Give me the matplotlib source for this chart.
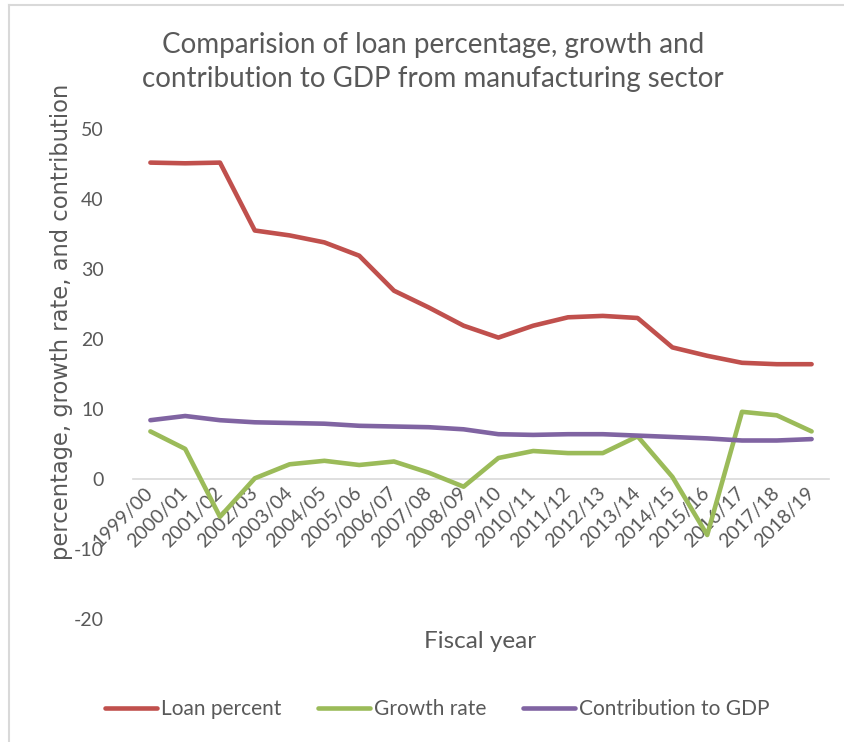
import matplotlib
matplotlib.use("Agg")
import matplotlib.pyplot as plt
from matplotlib.lines import Line2D

years = ["1999/00", "2000/01", "2001/02", "2002/03", "2003/04", "2004/05",
         "2005/06", "2006/07", "2007/08", "2008/09", "2009/10", "2010/11",
         "2011/12", "2012/13", "2013/14", "2014/15", "2015/16", "2016/17",
         "2017/18", "2018/19"]
loan_percent = [45.2, 45.1, 45.2, 35.5, 34.8, 33.8, 31.9, 26.9, 24.5, 21.9,
                20.2, 21.9, 23.1, 23.3, 23.0, 18.8, 17.6, 16.6, 16.4, 16.4]
growth_rate = [6.8, 4.3, -5.4, 0.1, 2.1, 2.6, 2.0, 2.5, 0.9, -1.1,
               3.0, 4.0, 3.7, 3.7, 6.1, 0.3, -8.0, 9.6, 9.1, 6.8]
gdp_contribution = [8.4, 9.0, 8.4, 8.1, 8.0, 7.9, 7.6, 7.5, 7.4, 7.1,
                    6.4, 6.3, 6.4, 6.4, 6.2, 6.0, 5.8, 5.5, 5.5, 5.7]

txt = "#595959"
plt.rcParams["font.family"] = ["Lato", "DejaVu Sans"]
plt.rcParams["axes.unicode_minus"] = False

fig = plt.figure(figsize=(8.44, 7.42), dpi=100)
ax = fig.add_axes([133 / 844, 1 - 619 / 742, (829 - 133) / 844, (619 - 129) / 742])

# zero line acts as the category axis (set before tick styling, it resets ticks)
for s in ["top", "right", "left"]:
    ax.spines[s].set_visible(False)
ax.spines["bottom"].set_position(("data", 0))
ax.spines["bottom"].set_color("#D9D9D9")
ax.spines["bottom"].set_linewidth(1.2)

x = list(range(len(years)))
series = [("Loan percent", loan_percent, "#C0504D"),
          ("Growth rate", growth_rate, "#9BBB59"),
          ("Contribution to GDP", gdp_contribution, "#8064A2")]
for name, vals, col in series:
    ax.plot(x, vals, color=col, lw=3.3, label=name,
            solid_capstyle="round", solid_joinstyle="round", zorder=3)

ax.set_xlim(-0.5, len(years) - 0.5)
ax.set_ylim(-20, 50)
ax.set_yticks(range(-20, 51, 10))
ax.tick_params(axis="y", length=0, pad=21, labelsize=14, labelcolor=txt)
ax.set_xticks(x)
ax.set_xticklabels(years)
ax.tick_params(axis="x", length=0, pad=8, labelsize=14, labelcolor=txt)
plt.setp(ax.get_xticklabels(), rotation=45, ha="right", va="center",
         rotation_mode="anchor")

fig.text(433 / 844, 1 - 62 / 742,
         "Comparision of loan percentage, growth and\ncontribution to GDP from manufacturing sector",
         ha="center", va="center", fontsize=20, color=txt, linespacing=1.35)
fig.text(480 / 844, 1 - 641 / 742, "Fiscal year", ha="center", va="center",
         fontsize=17.5, color=txt)
fig.text(62 / 844, 1 - 322 / 742, "percentage, growth rate, and contribution",
         rotation=90, ha="center", va="center", fontsize=16.3, color=txt,
         family=["DejaVu Sans"])

fig.legend(loc="center", bbox_to_anchor=(437 / 844, 1 - 709 / 742), ncol=3,
           frameon=False, fontsize=15, handlelength=2.5, handletextpad=0.2,
           columnspacing=1.75, labelcolor=txt)

# chart frame
fig.add_artist(Line2D([9 / 844, 1], [1 - 5 / 742, 1 - 5 / 742],
                      transform=fig.transFigure, color="#D9D9D9", lw=1.5))
fig.add_artist(Line2D([9 / 844, 9 / 844], [0, 1 - 5 / 742],
                      transform=fig.transFigure, color="#D9D9D9", lw=1.5))

fig.savefig("out.png", dpi=100)
